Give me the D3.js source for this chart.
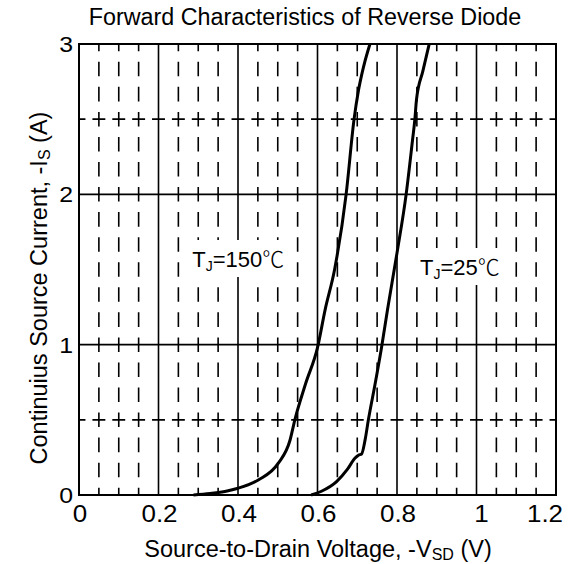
<!DOCTYPE html>
<html lang="en">
<head>
<meta charset="UTF-8">
<title>Forward Characteristics of Reverse Diode</title>
<script src="https://d3js.org/d3.v7.min.js"></script>
<style>
    body { margin: 0; background: #fff; }
    text { font-family: Arial, "Liberation Sans", sans-serif; fill: #000; }
    .deg { font-family: "Noto Sans CJK SC", "DejaVu Sans", sans-serif; font-weight: 300; }
</style>
</head>
<body>
<svg id="chart" width="569" height="564"></svg>
<script>

// data
const v150 = [0.288, 0.33, 0.37, 0.40, 0.451, 0.501, 0.531, 0.543, 0.57, 0.60, 0.619, 0.643, 0.672, 0.692, 0.703, 0.716, 0.732];
const i150 = [0, 0.01, 0.025, 0.045, 0.10, 0.21, 0.366, 0.5, 0.74, 0.98, 1.23, 1.5, 2.0, 2.5, 2.69, 2.85, 3.0];

const v25 = [0.584, 0.61, 0.648, 0.675, 0.694, 0.703, 0.711, 0.72, 0.728, 0.745, 0.761, 0.776, 0.80, 0.823, 0.839, 0.845, 0.849, 0.865, 0.881];
const i25 = [0, 0.025, 0.089, 0.17, 0.244, 0.265, 0.273, 0.37, 0.5, 0.74, 0.98, 1.23, 1.61, 2.0, 2.36, 2.5, 2.63, 2.82, 3.0];

const xTicks = [0, 0.2, 0.4, 0.6, 0.8, 1, 1.2];
const yTicks = [0, 1, 2, 3];
const xMinor = d3.range(1, 24).map(k => k * 0.05).filter((d, k) => (k + 1) % 4 !== 0);
const yMinor = [0.5, 2.5];

const svg = d3.select('#chart');
const x = d3.scaleLinear().domain([0, 1.2]).range([79, 556]);
const y = d3.scaleLinear().domain([0, 3]).range([495, 44]);

// dash patterns follow the grid spacing
const vp = (y(0) - y(0.5)) / 3;
const hp = x(0.05) - x(0);

// grid
const grid = svg.append('g');
grid.selectAll('line.xmin').data(xMinor).enter().append('line')
    .attr('x1', d => x(d)).attr('x2', d => x(d))
    .attr('y1', y(3)).attr('y2', y(0))
    .attr('stroke', '#000').attr('stroke-width', 1.6)
    .attr('stroke-dasharray', `${vp * 0.58},${vp * 0.42}`)
    .attr('stroke-dashoffset', vp * 0.29);
grid.selectAll('line.ymin').data(yMinor).enter().append('line')
    .attr('x1', x(0)).attr('x2', x(1.2))
    .attr('y1', d => y(d)).attr('y2', d => y(d))
    .attr('stroke', '#000').attr('stroke-width', 1.6)
    .attr('stroke-dasharray', `${hp * 0.65},${hp * 0.35}`)
    .attr('stroke-dashoffset', hp * 0.325);
grid.selectAll('line.xmaj').data(xTicks).enter().append('line')
    .attr('x1', d => x(d)).attr('x2', d => x(d))
    .attr('y1', y(0)).attr('y2', y(3))
    .attr('stroke', '#000').attr('stroke-width', 1.6);
grid.selectAll('line.ymaj').data(yTicks).enter().append('line')
    .attr('x1', x(0)).attr('x2', x(1.2))
    .attr('y1', d => y(d)).attr('y2', d => y(d))
    .attr('stroke', '#000').attr('stroke-width', 1.6);

// frame
svg.append('rect')
    .attr('x', x(0)).attr('y', y(3))
    .attr('width', x(1.2) - x(0)).attr('height', y(0) - y(3))
    .attr('fill', 'none').attr('stroke', '#000').attr('stroke-width', 2);

// curves
const line = d3.line().curve(d3.curveMonotoneX);
svg.append('path')
    .attr('d', line(v150.map((v, k) => [x(v), y(i150[k])])))
    .attr('fill', 'none').attr('stroke', '#000').attr('stroke-width', 3);
svg.append('path')
    .attr('d', line(v25.map((v, k) => [x(v), y(i25[k])])))
    .attr('fill', 'none').attr('stroke', '#000').attr('stroke-width', 3);

// curve labels
function tLabel(px, py, temp) {
    const g = svg.append('g');
    const t = g.append('text').attr('x', px).attr('y', py).attr('font-size', 22);
    t.append('tspan').text('T');
    t.append('tspan').attr('font-size', 14).attr('dy', 4).text('J');
    t.append('tspan').attr('dy', -4).text('=' + temp);
    t.append('tspan').attr('class', 'deg').text('\u2103');
    const b = t.node().getBBox();
    g.insert('rect', 'text')
        .attr('x', b.x - 7).attr('y', b.y - 1)
        .attr('width', b.width + 14).attr('height', b.height + 4)
        .attr('fill', '#fff');
}
tLabel(x(0.285), 267, '150');
tLabel(x(0.858), 275, '25');

// tick labels (slightly wide face, as in the original)
svg.selectAll('text.xt').data(xTicks).enter().append('text')
    .attr('transform', (d, k) => `translate(${k === xTicks.length - 1 ? x(d) - 11 : x(d) + (d === 1 ? 5 : 1)},522) scale(1.13,1)`)
    .attr('text-anchor', 'middle').attr('font-size', 23)
    .text(d => d);
svg.selectAll('text.yt').data(yTicks).enter().append('text')
    .attr('transform', d => `translate(73,${y(d) + 8}) scale(1.13,1)`)
    .attr('text-anchor', 'end').attr('font-size', 22)
    .text(d => d);

// title and axis titles
svg.append('text')
    .attr('x', 305).attr('y', 25)
    .attr('text-anchor', 'middle').attr('font-size', 23.3)
    .text('Forward Characteristics of Reverse Diode');

const xl = svg.append('text')
    .attr('x', 318).attr('y', 557)
    .attr('text-anchor', 'middle').attr('font-size', 23.5);
xl.append('tspan').text('Source-to-Drain Voltage, -V');
xl.append('tspan').attr('font-size', 16).attr('dy', 3).text('SD');
xl.append('tspan').attr('dy', -3).text(' (V)');

const yl = svg.append('text')
    .attr('transform', `translate(47,288) rotate(-90)`)
    .attr('text-anchor', 'middle').attr('font-size', 23.5);
yl.append('tspan').text('Continuius Source Current, -I');
yl.append('tspan').attr('font-size', 16).attr('dy', 3).text('S');
yl.append('tspan').attr('dy', -3).text(' (A)');

</script>
</body>
</html>
